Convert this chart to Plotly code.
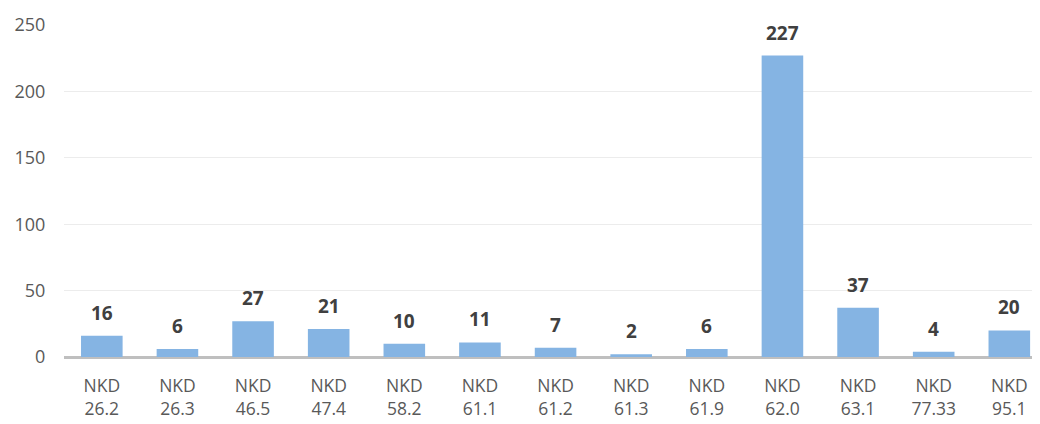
import plotly.graph_objects as go

codes = ["NKD"] * 13
rates = ["26.2", "26.3", "46.5", "47.4", "58.2", "61.1", "61.2", "61.3",
         "61.9", "62.0", "63.1", "77.33", "95.1"]
counts = [16, 6, 27, 21, 10, 11, 7, 2, 6, 227, 37, 4, 20]

labels = [f"{c}<br>{r}" for c, r in zip(codes, rates)]

fig = go.Figure()
fig.add_trace(
    go.Bar(
        x=labels,
        y=counts,
        marker={"color": "#85b4e3", "line": {"width": 0}},
        width=0.55,
        hoverinfo="x+y",
    )
)

for lab, val in zip(labels, counts):
    fig.add_annotation(
        x=lab,
        y=val,
        text=f"<b>{val}</b>",
        showarrow=False,
        yanchor="bottom",
        yshift=8,
        font={"size": 19, "color": "#404040"},
    )

# page body has an 8px margin, so the figure is sized and offset to compensate
fig.update_layout(
    width=1024,
    height=416,
    margin={"l": 56, "r": 0, "t": 17, "b": 67, "autoexpand": False},
    paper_bgcolor="white",
    plot_bgcolor="white",
    font={"family": "Open Sans, sans-serif", "color": "#595959", "size": 18},
    showlegend=False,
    bargap=0.45,
    xaxis={
        "range": [-0.5, 12.3],
        "showgrid": False,
        "showline": False,
        "automargin": False,
        "ticks": "outside",
        "ticklen": 13,
        "tickcolor": "rgba(0,0,0,0)",
        "tickfont": {"size": 17.5, "color": "#595959"},
    },
    yaxis={
        "range": [0, 250],
        "tickvals": [0, 50, 100, 150, 200, 250],
        "gridcolor": "#ececec",
        "gridwidth": 1,
        "zeroline": True,
        "zerolinecolor": "#bfbfbf",
        "zerolinewidth": 3,
        "automargin": False,
        "ticks": "outside",
        "ticklen": 14,
        "tickcolor": "rgba(0,0,0,0)",
        "tickfont": {"size": 18, "color": "#595959"},
    },
)

fig.write_html("out.html")
